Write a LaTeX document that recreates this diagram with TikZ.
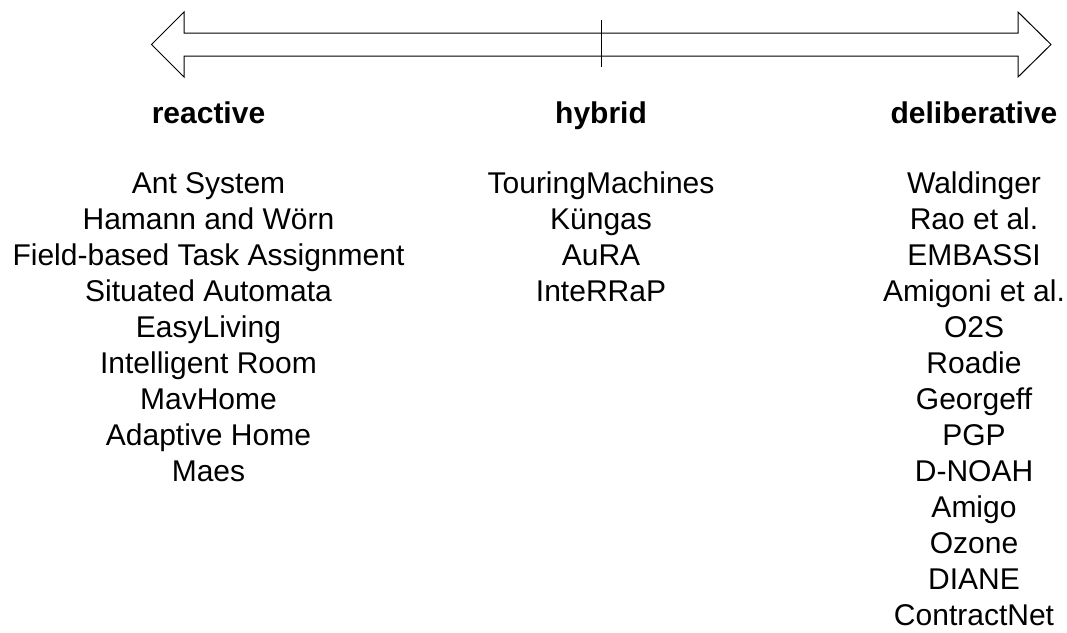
\documentclass[tikz,border=0pt]{standalone}
\usepackage{fontspec}
\setmainfont{Liberation Sans}
\tikzset{
  item/.style={
    anchor = base,
    inner sep = 0pt,
    font = \fontsize{30}{36}\selectfont
  },
  heading/.style={
    item,
    font = \fontsize{30}{36}\selectfont\bfseries
  },
  axisline/.style={
    line width = 1pt,
    line join = miter
  },
}

\begin{document}
\begin{tikzpicture}[x=1pt,y=-1pt]
  \useasboundingbox (0,0) rectangle (1067,632);
  % double-headed scale arrow
  \draw[axisline] (151.5,44.5) -- (184,12) -- (184,33) -- (1018,33) -- (1018,12)
    -- (1051,44.5) -- (1018,77) -- (1018,56) -- (184,56) -- (184,77) -- cycle;
  \draw[axisline] (601,19.5) -- (601,67);
  \node[heading] (reactive) at (208.5,123) {reactive};
  \node[heading] (hybrid) at (601,123) {hybrid};
  \node[heading] (deliberative) at (974,123) {deliberative};
  \foreach \name [count=\i] in {Ant System,Hamann and Wörn,Field-based Task Assignment,
    Situated Automata,EasyLiving,Intelligent Room,MavHome,Adaptive Home,Maes}{
    \node[item] (r\i) at (208.5,157.5+36*\i) {\name};
  }
  \foreach \name [count=\i] in {TouringMachines,Küngas,AuRA,InteRRaP}{
    \node[item] (h\i) at (601,157.5+36*\i) {\name};
  }
  \foreach \name [count=\i] in {Waldinger,Rao et al.,EMBASSI,Amigoni et al.,O2S,Roadie,
    Georgeff,PGP,D-NOAH,Amigo,Ozone,DIANE,ContractNet}{
    \node[item] (d\i) at (974,157.5+36*\i) {\name};
  }
\end{tikzpicture}
\end{document}
